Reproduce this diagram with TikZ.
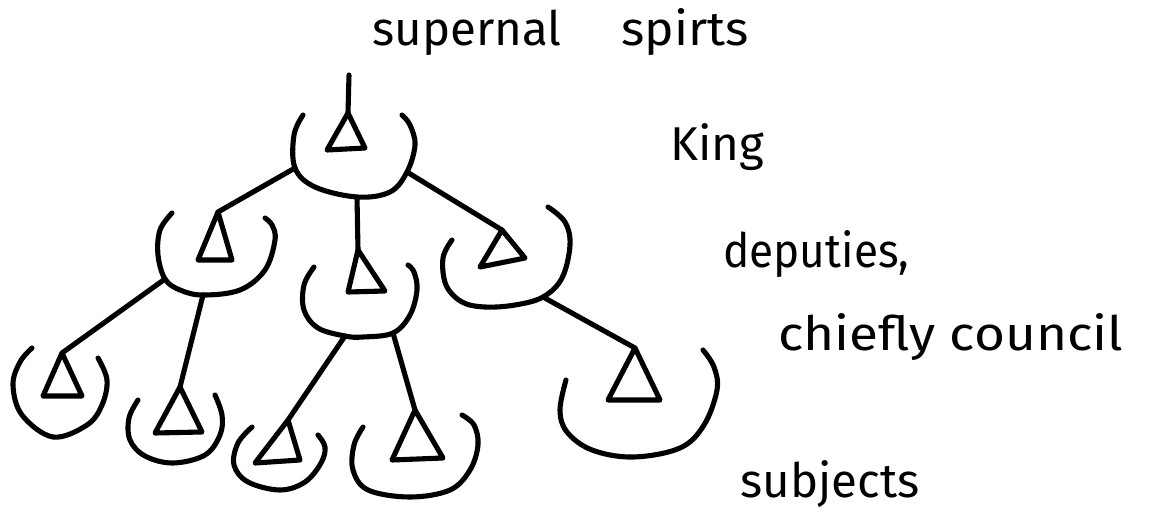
\documentclass[tikz,border=0pt]{standalone}
\usepackage{fontspec}
\usepackage{graphicx}
\setmainfont{Fira Sans}
\tikzset{
  ink/.style={line width=2.9pt, line cap=round, line join=round, black},
  bowl/.style={ink},
  lbl/.style={font=\fontsize{27}{32}\selectfont, anchor=base west, inner sep=0pt}
}
\begin{document}
\begin{tikzpicture}[x=0.02cm,y=-0.02cm]
\useasboundingbox (0,0) rectangle (1170,524);
% ---- King ----
\coordinate (top) at (349,75);
\coordinate (kA) at (348,113); \coordinate (kB1) at (327,150); \coordinate (kB2) at (365,148);
\coordinate (kL) at (295,168); \coordinate (kM) at (357,197); \coordinate (kR) at (407,172);
\draw[ink] (kA) -- (kB1) -- (kB2) -- cycle;
\draw[bowl] plot[smooth,tension=0.6] coordinates {(303,115) (294,135) (kL) (315,187) (kM) (390,192) (kR) (415,145) (410,125) (402,115)};
% ---- Deputy 1 ----
\coordinate (d1A) at (218,212); \coordinate (d1B1) at (198,260); \coordinate (d1B2) at (232,260);
\coordinate (d1L) at (165,279); \coordinate (d1M) at (203,295);
\draw[ink] (d1A) -- (d1B1) -- (d1B2) -- cycle;
\draw[bowl] plot[smooth,tension=0.6] coordinates {(172,213) (160,230) (158,255) (d1L) (180,290) (d1M) (240,290) (265,270) (275,240) (272,225) (265,218)};
% ---- Deputy 2 ----
\coordinate (d2A) at (358,250); \coordinate (d2B1) at (348,292); \coordinate (d2B2) at (385,291);
\coordinate (d2L) at (345,336); \coordinate (d2R) at (393,333);
\draw[ink] (d2A) -- (d2B1) -- (d2B2) -- cycle;
\draw[bowl] plot[smooth,tension=0.6] coordinates {(314,267) (304,285) (304,310) (318,328) (d2L) (363,337) (d2R) (410,315) (417,290) (414,272) (408,265)};
% ---- Deputy 3 ----
\coordinate (d3A) at (502,230); \coordinate (d3B1) at (480,267); \coordinate (d3B2) at (525,258);
\coordinate (d3R) at (543,297);
\draw[ink] (d3A) -- (d3B1) -- (d3B2) -- cycle;
\draw[bowl] plot[smooth,tension=0.6] coordinates {(452,240) (443,258) (446,285) (462,302) (485,307) (515,305) (d3R) (562,278) (570,245) (565,222) (548,207)};
% ---- Subjects ----
\coordinate (s1A) at (62,353); \coordinate (s1B1) at (43,396); \coordinate (s1B2) at (82,396);
\draw[ink] (s1A) -- (s1B1) -- (s1B2) -- cycle;
\draw[bowl] plot[smooth,tension=0.6] coordinates {(32,348) (20,362) (13,385) (22,415) (53,437) (87,425) (102,405) (107,380) (98,358)};
\coordinate (s2A) at (180,387); \coordinate (s2B1) at (155,433); \coordinate (s2B2) at (202,432);
\draw[ink] (s2A) -- (s2B1) -- (s2B2) -- cycle;
\draw[bowl] plot[smooth,tension=0.6] coordinates {(138,400) (129,418) (130,440) (145,456) (173,463) (205,455) (220,435) (222,415) (215,395)};
\coordinate (s3A) at (288,420); \coordinate (s3B1) at (255,463); \coordinate (s3B2) at (300,460);
\draw[ink] (s3A) -- (s3B1) -- (s3B2) -- cycle;
\draw[bowl] plot[smooth,tension=0.6] coordinates {(252,427) (238,443) (234,465) (248,482) (280,490) (305,482) (321,463) (325,447) (318,435)};
\coordinate (s4A) at (415,410); \coordinate (s4B1) at (392,460); \coordinate (s4B2) at (443,458);
\draw[ink] (s4A) -- (s4B1) -- (s4B2) -- cycle;
\draw[bowl] plot[smooth,tension=0.6] coordinates {(363,427) (354,445) (353,470) (368,490) (410,497) (450,490) (470,470) (478,445) (474,425) (462,415)};
\coordinate (s5A) at (635,348); \coordinate (s5B1) at (608,400); \coordinate (s5B2) at (660,400);
\draw[ink] (s5A) -- (s5B1) -- (s5B2) -- cycle;
\draw[bowl] plot[smooth,tension=0.6] coordinates {(566,380) (560,410) (567,432) (592,450) (633,457) (680,448) (704,425) (717,390) (714,367) (703,350)};
% ---- connectors ----
\draw[ink] (top) -- (kA);
\draw[ink] (kL) -- (d1A);
\draw[ink] (kM) -- (d2A);
\draw[ink] (kR) -- (d3A);
\draw[ink] (d1L) -- (s1A);
\draw[ink] (d1M) -- (s2A);
\draw[ink] (d2L) -- (s3A);
\draw[ink] (d2R) -- (s4A);
\draw[ink] (d3R) -- (s5A);
% ---- labels ----
\node[lbl] (sup) at (372,45) {supernal\hspace{1.2cm}\scalebox{1.05}[1]{spirts}};
\node[lbl] (king) at (670,160) {King};
\node[lbl] (dep) at (723,267) {\scalebox{0.93}[1]{deputies,}};
\node[lbl] (chief) at (778,350) {\scalebox{1.12}[1]{chiefly council}};
\node[lbl] (subj) at (740,497) {subjects};
\end{tikzpicture}
\end{document}
